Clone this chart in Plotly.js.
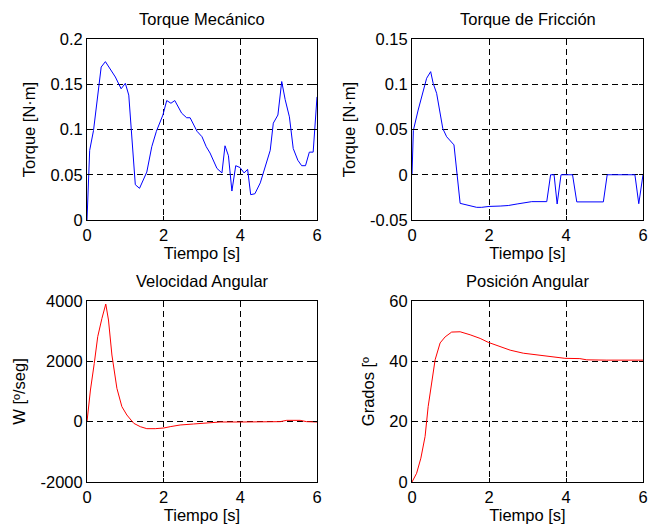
<!DOCTYPE html>
<html>
<head>
<meta charset="utf-8">
<script src="https://cdn.plot.ly/plotly-3.0.1.min.js"></script>
<style>html,body{margin:0;padding:0;background:#fff;}#chart{width:649px;height:531px;}</style>
</head>
<body>
<div id="chart"></div>
<script>
// ---- Data ----
var tMec = [0, 0.07, 0.17, 0.37, 0.48, 0.61, 0.74, 0.89, 1.0, 1.09, 1.26, 1.37, 1.56, 1.69, 1.81, 1.98, 2.08, 2.19, 2.29, 2.47, 2.6, 2.69, 2.87, 3.0, 3.11, 3.21, 3.39, 3.52, 3.6, 3.69, 3.78, 3.88, 3.99, 4.10, 4.19, 4.27, 4.38, 4.52, 4.69, 4.78, 4.86, 4.98, 5.08, 5.17, 5.28, 5.38, 5.50, 5.60, 5.70, 5.80, 5.90, 6.0];
var torqueMec = [0, 0.077, 0.099, 0.169, 0.175, 0.166, 0.158, 0.145, 0.151, 0.138, 0.039, 0.035, 0.053, 0.081, 0.098, 0.116, 0.132, 0.129, 0.132, 0.118, 0.113, 0.113, 0.098, 0.092, 0.081, 0.074, 0.057, 0.052, 0.082, 0.071, 0.032, 0.060, 0.058, 0.052, 0.056, 0.028, 0.029, 0.041, 0.066, 0.077, 0.107, 0.116, 0.153, 0.133, 0.114, 0.079, 0.066, 0.060, 0.060, 0.075, 0.075, 0.136];

var tFric = [0, 0.035, 0.16, 0.38, 0.485, 0.55, 0.64, 0.727, 0.80, 0.90, 1.09, 1.25, 1.42, 1.68, 1.81, 2.0, 2.29, 2.5, 2.73, 3.11, 3.50, 3.60, 3.69, 3.77, 3.87, 4.17, 4.28, 4.97, 5.07, 5.79, 5.89, 6.0];
var torqueFric = [0, 0.049, 0.0715, 0.1066, 0.1139, 0.101, 0.090, 0.068, 0.051, 0.042, 0.033, -0.0316, -0.0335, -0.036, -0.036, -0.035, -0.0346, -0.034, -0.0323, -0.0297, -0.0297, 0, 0, -0.0323, 0, 0, -0.030, -0.030, 0, 0, -0.032, 0];

var tVel = [0, 0.09, 0.19, 0.28, 0.39, 0.49, 0.56, 0.65, 0.78, 0.91, 1.04, 1.22, 1.39, 1.56, 1.78, 2.0, 2.17, 2.43, 2.78, 3.13, 3.47, 4.0, 4.52, 5.04, 5.21, 5.56, 5.73, 6.0];
var velAng = [0, 1050, 1934, 2818, 3425, 3900, 3370, 2210, 1105, 497, 221, -55, -166, -232, -232, -210, -166, -110, -77, -33, -11, -11, 0, 0, 44, 44, 0, -11];

var tPos = [0, 0.12, 0.23, 0.34, 0.42, 0.51, 0.60, 0.73, 0.86, 1.03, 1.25, 1.51, 1.77, 1.98, 2.24, 2.55, 2.89, 3.24, 3.67, 3.97, 4.36, 4.54, 5.06, 6.0];
var posAng = [0, 2.9, 7.9, 15.1, 25.0, 32.8, 40.5, 46.1, 48.1, 49.7, 49.8, 48.8, 47.6, 46.3, 45.2, 43.7, 42.7, 42.1, 41.4, 41.0, 40.9, 40.5, 40.4, 40.4];

// ---- Tick labels ----
var xTickVals = [0, 2, 4, 6];
var xTickText = ['0', '2', '4', '6'];
var y1TickVals = [0, 0.05, 0.1, 0.15, 0.2];
var y1TickText = ['0', '0.05', '0.1', '0.15', '0.2'];
var y2TickVals = [-0.05, 0, 0.05, 0.1, 0.15];
var y2TickText = ['-0.05', '0', '0.05', '0.1', '0.15'];
var y3TickVals = [-2000, 0, 2000, 4000];
var y3TickText = ['-2000', '0', '2000', '4000'];
var y4TickVals = [0, 20, 40, 60];
var y4TickText = ['0', '20', '40', '60'];

// ---- Text ----
var titles = ['Torque Mecánico', 'Torque de Fricción', 'Velocidad Angular', 'Posición Angular'];
var xLabel = 'Tiempo [s]';
var yLabels = ['Torque [N·m]', 'Torque [N·m]', 'W [º/seg]', 'Grados [º'];

var FONT = 'Liberation Sans, Arial, Helvetica, sans-serif';
var FS = 16.5;

var W = 649, H = 531;
var colL = [87 / W, 317 / W];
var colR = [412 / W, 643 / W];
var rowT = [(H - 220) / H, (H - 39) / H];
var rowB = [(H - 482) / H, (H - 301) / H];

function xax(dom, anchor) {
  return {
    domain: dom, anchor: anchor, range: [0, 6],
    tickmode: 'array', tickvals: xTickVals, ticktext: xTickText,
    showline: true, mirror: 'ticks', linecolor: '#000', linewidth: 1,
    ticks: 'inside', ticklen: 4, tickcolor: '#000', tickwidth: 1,
    showgrid: true, gridcolor: '#000', gridwidth: 1, griddash: '6px,4px',
    zeroline: false, fixedrange: true,
    tickfont: {family: FONT, size: FS, color: '#000'},
    title: {text: xLabel, font: {family: FONT, size: FS, color: '#000'}, standoff: 2}
  };
}
function yax(dom, anchor, rng, tv, tt, label) {
  return {
    domain: dom, anchor: anchor, range: rng,
    tickmode: 'array', tickvals: tv, ticktext: tt,
    showline: true, mirror: 'ticks', linecolor: '#000', linewidth: 1,
    ticks: 'inside', ticklen: 4, tickcolor: '#000', tickwidth: 1,
    showgrid: true, gridcolor: '#000', gridwidth: 1, griddash: '6px,4px',
    zeroline: false, fixedrange: true,
    tickfont: {family: FONT, size: FS, color: '#000'},
    title: {text: label, font: {family: FONT, size: FS, color: '#000'}, standoff: 10}
  };
}

var traces = [
  {x: tMec, y: torqueMec, xaxis: 'x', yaxis: 'y', type: 'scatter', mode: 'lines', line: {color: '#0000ff', width: 1}, name: titles[0]},
  {x: tFric, y: torqueFric, xaxis: 'x2', yaxis: 'y2', type: 'scatter', mode: 'lines', line: {color: '#0000ff', width: 1}, name: titles[1]},
  {x: tVel, y: velAng, xaxis: 'x3', yaxis: 'y3', type: 'scatter', mode: 'lines', line: {color: '#ff0000', width: 1}, name: titles[2]},
  {x: tPos, y: posAng, xaxis: 'x4', yaxis: 'y4', type: 'scatter', mode: 'lines', line: {color: '#ff0000', width: 1}, name: titles[3]}
];

function ann(text, dom, yPx) {
  return {
    text: text, xref: 'paper', yref: 'paper',
    x: (dom[0] + dom[1]) / 2, y: 1 - yPx / H,
    xanchor: 'center', yanchor: 'middle', showarrow: false,
    font: {family: FONT, size: FS, color: '#000'}
  };
}

var layout = {
  width: W, height: H,
  margin: {l: 0, r: 0, t: 0, b: 0},
  paper_bgcolor: '#fff', plot_bgcolor: '#fff',
  showlegend: false,
  font: {family: FONT, size: FS, color: '#000'},
  xaxis: xax(colL, 'y'),
  yaxis: yax(rowT, 'x', [0, 0.2], y1TickVals, y1TickText, yLabels[0]),
  xaxis2: xax(colR, 'y2'),
  yaxis2: yax(rowT, 'x2', [-0.05, 0.15], y2TickVals, y2TickText, yLabels[1]),
  xaxis3: xax(colL, 'y3'),
  yaxis3: yax(rowB, 'x3', [-2000, 4000], y3TickVals, y3TickText, yLabels[2]),
  xaxis4: xax(colR, 'y4'),
  yaxis4: yax(rowB, 'x4', [0, 60], y4TickVals, y4TickText, yLabels[3]),
  annotations: [
    ann(titles[0], colL, 18.5),
    ann(titles[1], colR, 18.5),
    ann(titles[2], colL, 280.5),
    ann(titles[3], colR, 280.5)
  ]
};

Plotly.newPlot('chart', traces, layout, {displayModeBar: false, staticPlot: true});
</script>
</body>
</html>
